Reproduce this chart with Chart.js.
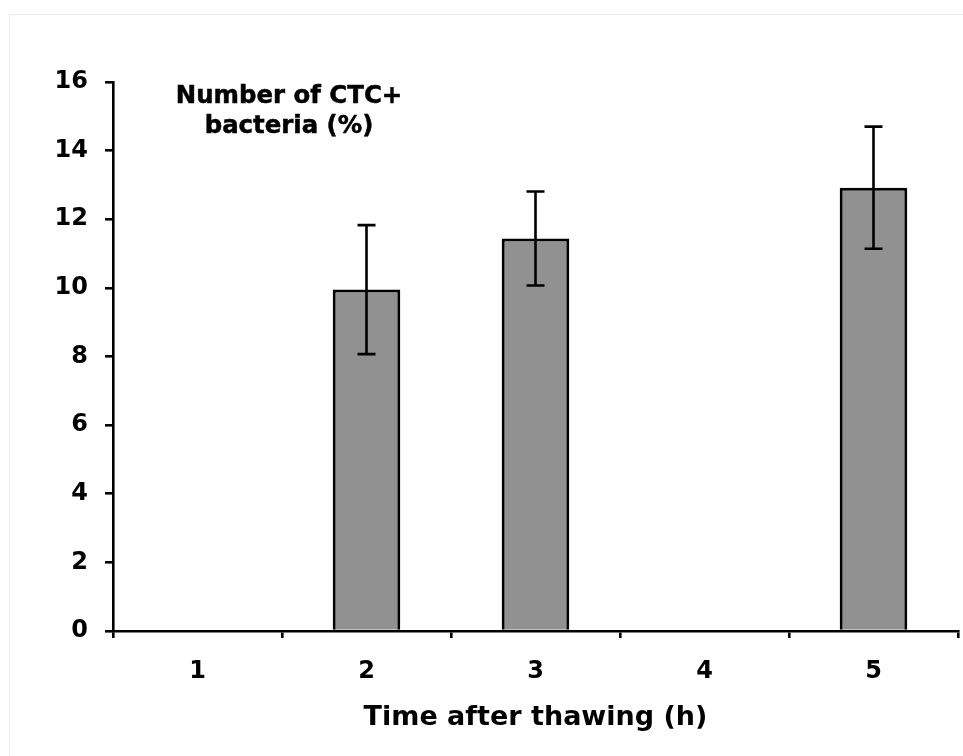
<!DOCTYPE html>
<html>
<head>
<meta charset="utf-8">
<script src="https://cdn.jsdelivr.net/npm/chart.js@4/dist/chart.umd.min.js"></script>
<style>
  html, body { margin: 0; padding: 0; background: #ffffff; }
  #wrap { position: relative; width: 963px; height: 756px; overflow: hidden; background: #fff; }
  #frame { position: absolute; left: 9px; top: 14px; width: 1000px; height: 800px; border-top: 1px solid #ebebeb; border-left: 1px solid #ebebeb; }
  canvas { position: absolute; left: 0; top: 0; }
</style>
</head>
<body>
<div id="wrap">
  <div id="frame"></div>
  <canvas id="c" width="963" height="756"></canvas>
</div>
<script>
const categories = ['1', '2', '3', '4', '5'];
const meanValues = [null, 9.95, 11.44, null, 12.92];
const errorValues = [null, 1.88, 1.37, null, 1.78];
const yTicks = [0, 2, 4, 6, 8, 10, 12, 14, 16];
const chartTitleLines = ['Number of CTC+', 'bacteria (%)'];
const xAxisTitle = 'Time after thawing (h)';

const FONT = "'DejaVu Sans', Verdana, sans-serif";

const errorBarPlugin = {
  id: 'errorBars',
  afterDatasetsDraw(chart) {
    const ctx = chart.ctx;
    const meta = chart.getDatasetMeta(0);
    const yScale = chart.scales.y;
    ctx.save();
    ctx.strokeStyle = '#000';
    ctx.lineWidth = 2.6;
    meta.data.forEach((bar, i) => {
      const v = meanValues[i], e = errorValues[i];
      if (v == null || e == null) return;
      const x = bar.x;
      const yTop = yScale.getPixelForValue(v + e);
      const yBot = yScale.getPixelForValue(v - e);
      const cap = 9;
      ctx.beginPath();
      ctx.moveTo(x, yTop); ctx.lineTo(x, yBot);
      ctx.moveTo(x - cap, yTop); ctx.lineTo(x + cap, yTop);
      ctx.moveTo(x - cap, yBot); ctx.lineTo(x + cap, yBot);
      ctx.stroke();
    });
    ctx.restore();
  }
};

const innerTitlePlugin = {
  id: 'innerTitle',
  afterDraw(chart) {
    const ctx = chart.ctx;
    const area = chart.chartArea;
    ctx.save();
    ctx.fillStyle = '#000';
    ctx.strokeStyle = '#000';
    ctx.lineWidth = 0.5;
    ctx.font = 'bold 24.4px ' + FONT;
    ctx.textAlign = 'center';
    ctx.textBaseline = 'alphabetic';
    const cx = area.left + 176;
    chartTitleLines.forEach((line, k) => {
      const y = area.top + 21 + k * 30;
      ctx.fillText(line, cx, y);
      ctx.strokeText(line, cx, y);
    });
    ctx.restore();
  }
};

new Chart(document.getElementById('c'), {
  type: 'bar',
  data: {
    labels: categories,
    datasets: [{
      data: meanValues,
      backgroundColor: '#919191',
      borderColor: '#000000',
      borderWidth: 3,
      barPercentage: 0.4,
      categoryPercentage: 1.0
    }]
  },
  options: {
    responsive: false,
    animation: false,
    devicePixelRatio: 1,
    layout: { padding: { top: 82, left: 0, right: 5, bottom: 0 } },
    plugins: {
      legend: { display: false },
      tooltip: { enabled: false },
      title: { display: false }
    },
    scales: {
      x: {
        type: 'category',
        offset: true,
        grid: {
          offset: true,
          drawOnChartArea: false,
          drawTicks: true,
          tickLength: 7,
          color: '#000',
          lineWidth: 2.6
        },
        border: { display: true, color: '#000', width: 2.6 },
        ticks: {
          color: '#000',
          font: { family: FONT, size: 24, weight: 'bold' },
          padding: 19,
          maxRotation: 0
        },
        title: {
          display: true,
          text: xAxisTitle,
          color: '#000',
          font: { family: FONT, size: 27, weight: 'bold' },
          padding: { top: 0, bottom: 22 }
        },
        afterFit(scale) { scale.height = 125; }
      },
      y: {
        min: 0,
        max: 16,
        afterBuildTicks(scale) { scale.ticks = yTicks.map(v => ({ value: v })); },
        grid: {
          drawOnChartArea: false,
          drawTicks: true,
          tickLength: 8,
          color: '#000',
          lineWidth: 2.6
        },
        border: { display: true, color: '#000', width: 2.6 },
        ticks: {
          color: '#000',
          font: { family: FONT, size: 24, weight: 'bold' },
          padding: 17
        },
        afterFit(scale) { scale.width = 113; }
      }
    }
  },
  plugins: [errorBarPlugin, innerTitlePlugin]
});
</script>
</body>
</html>
